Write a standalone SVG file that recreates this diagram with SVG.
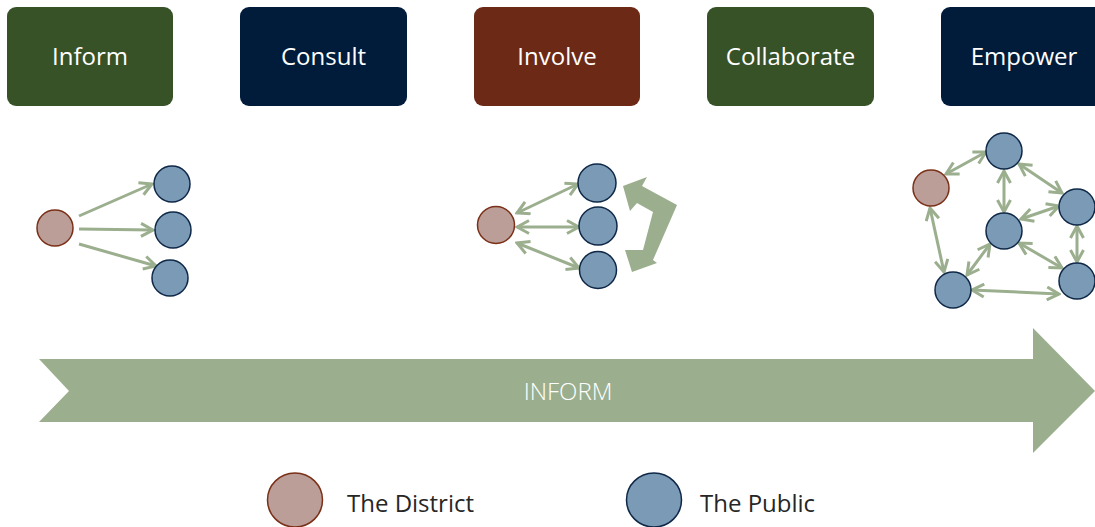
<svg xmlns="http://www.w3.org/2000/svg" width="1095" height="527" viewBox="0 0 1095 527">
<style>
.box text{font-family:"Open Sans","Noto Sans",sans-serif;font-size:24px;fill:#ffffff;text-anchor:middle}
.green{fill:#385228}
.navy{fill:#011C3B}
.brown{fill:#6C2915}
.dist{fill:#BB9E98;stroke:#7A2F17;stroke-width:1.5}
.pub{fill:#7A9AB5;stroke:#0F2848;stroke-width:1.5}
.con line{stroke:#9BAF8F;stroke-width:3;fill:none}
.one{marker-end:url(#ah)}
.two{marker-end:url(#ah);marker-start:url(#ah)}
.leg{font-family:"Open Sans","Noto Sans",sans-serif;font-size:24px;fill:#262626}
</style>
<defs>
<marker id="ah" markerUnits="userSpaceOnUse" markerWidth="16" markerHeight="16" viewBox="0 0 16 16" refX="14" refY="8" orient="auto-start-reverse">
<path d="M2,1.5 L14,8 L2,14.5" fill="none" stroke="#9BAF8F" stroke-width="3"/>
</marker>
</defs>
<rect width="1095" height="527" fill="#ffffff"/>

<g id="box-inform" class="box"><rect class="green" x="7" y="7" width="166" height="99" rx="9"/><text x="90" y="65">Inform</text></g>
<g id="box-consult" class="box"><rect class="navy" x="240" y="7" width="167" height="99" rx="9"/><text x="323.5" y="65">Consult</text></g>
<g id="box-involve" class="box"><rect class="brown" x="474" y="7" width="166" height="99" rx="9"/><text x="557" y="65">Involve</text></g>
<g id="box-collaborate" class="box"><rect class="green" x="707" y="7" width="167" height="99" rx="9"/><text x="790.5" y="65">Collaborate</text></g>
<g id="box-empower" class="box"><rect class="navy" x="941" y="7" width="166" height="99" rx="9"/><text x="1024" y="65">Empower</text></g>

<g id="connectors" class="con">
<line class="one" x1="79" y1="216" x2="152" y2="184"/>
<line class="one" x1="79" y1="229" x2="153" y2="230"/>
<line class="one" x1="79" y1="244" x2="156" y2="266"/>

<line class="two" x1="517" y1="213" x2="578" y2="184"/>
<line class="two" x1="517" y1="227" x2="579" y2="227"/>
<line class="two" x1="517" y1="243" x2="579" y2="268"/>

<line class="two" x1="946" y1="174" x2="986" y2="152"/>
<line class="two" x1="1004" y1="171" x2="1004" y2="212"/>
<line class="two" x1="1019" y1="164" x2="1062" y2="193"/>
<line class="two" x1="1021" y1="219" x2="1059" y2="206"/>
<line class="two" x1="1019" y1="243" x2="1062" y2="268"/>
<line class="two" x1="990" y1="244" x2="967" y2="275"/>
<line class="two" x1="1077" y1="226" x2="1077" y2="262"/>
<line class="two" x1="972" y1="290" x2="1059" y2="294"/>
<line class="two" x1="930" y1="208" x2="944" y2="272"/>
</g>

<g id="cycle-arrow">
<polygon points="623,186 647,177 642,186 677,205 653,260 657,263 632,272 625,250 643,250 653,212 637,203 630,211" fill="#9BAF8F"/>
</g>

<g id="inform-district"><circle class="dist" cx="55" cy="228" r="18"/></g>
<g id="inform-public-1"><circle class="pub" cx="172" cy="184" r="18"/></g>
<g id="inform-public-2"><circle class="pub" cx="173" cy="230" r="18"/></g>
<g id="inform-public-3"><circle class="pub" cx="170" cy="278" r="18"/></g>

<g id="involve-district"><circle class="dist" cx="496" cy="225" r="18.5"/></g>
<g id="involve-public-1"><circle class="pub" cx="597" cy="183" r="19"/></g>
<g id="involve-public-2"><circle class="pub" cx="598" cy="226" r="19"/></g>
<g id="involve-public-3"><circle class="pub" cx="598" cy="270" r="18.5"/></g>

<g id="empower-district"><circle class="dist" cx="931" cy="188" r="18"/></g>
<g id="empower-public-top"><circle class="pub" cx="1004" cy="151" r="18"/></g>
<g id="empower-public-mid"><circle class="pub" cx="1004" cy="231" r="18"/></g>
<g id="empower-public-right"><circle class="pub" cx="1077" cy="207" r="18"/></g>
<g id="empower-public-br"><circle class="pub" cx="1077" cy="281" r="18"/></g>
<g id="empower-public-bl"><circle class="pub" cx="953" cy="290" r="18"/></g>

<g id="timeline-arrow">
<polygon points="39,359 1033,359 1033,328 1095,391 1033,453 1033,422 39,422 69,391" fill="#9BAF8F"/>
<text x="568" y="400" font-family="'Open Sans','Noto Sans',sans-serif" font-size="24" font-weight="300" fill="#ffffff" text-anchor="middle">INFORM</text>
</g>

<g id="legend-district"><ellipse class="dist" cx="295" cy="500" rx="27.5" ry="27"/><text class="leg" x="347" y="512">The District</text></g>
<g id="legend-public"><ellipse class="pub" cx="654" cy="500" rx="27.5" ry="27"/><text class="leg" x="700" y="512">The Public</text></g>
</svg>
